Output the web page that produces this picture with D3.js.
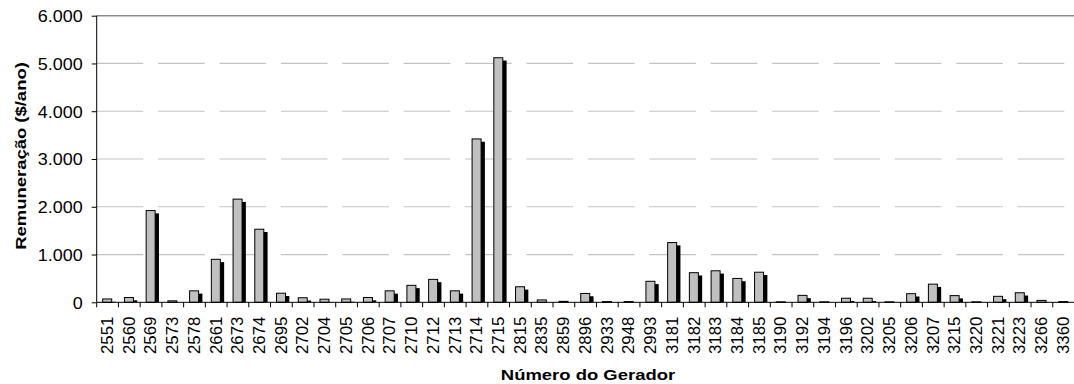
<!DOCTYPE html>
<html>
<head>
<meta charset="utf-8">
<script src="https://cdn.jsdelivr.net/npm/d3@7/dist/d3.min.js"></script>
<style>
  html, body { margin: 0; padding: 0; background: #fff; }
  svg { display: block; font-family: "Liberation Sans", Arial, sans-serif; }
</style>
</head>
<body>
<svg id="chart" width="1074" height="384"></svg>
<script>
const categories = ["2551","2560","2569","2573","2578","2661","2673","2674","2695","2702","2704","2705","2706","2707","2710","2712","2713","2714","2715","2815","2835","2859","2896","2933","2948","2993","3181","3182","3183","3184","3185","3190","3192","3194","3196","3202","3205","3206","3207","3215","3220","3221","3223","3266","3360"];
const values = [70,100,1920,30,240,900,2160,1530,190,95,65,70,100,240,355,480,240,3420,5120,325,50,20,185,15,15,440,1250,620,660,500,630,10,145,10,85,85,10,180,380,140,10,125,200,40,15];
const yTicks = [0,1000,2000,3000,4000,5000,6000];
const yTickLabels = ["0","1.000","2.000","3.000","4.000","5.000","6.000"];
const yTitle = "Remuneração ($/ano)";
const xTitle = "Número do Gerador";

(function() {
const svg = d3.select("#chart");
const pL = 96.7, pR = 1074.5, pT = 15.7, pB = 302.3;

const x = d3.scaleBand().domain(categories).range([pL, pR]).padding(0);
const y = d3.scaleLinear().domain([0, 6000]).range([pB, pT]);
const bw = x.bandwidth();

function stretch(sel, factor) {
  sel.each(function() {
    const w = this.getComputedTextLength();
    d3.select(this).attr("textLength", w * factor).attr("lengthAdjust", "spacingAndGlyphs");
  });
}

// gridlines (dashed)
svg.append("g").selectAll("line")
  .data(yTicks.filter(d => d > 0 && d < 6000))
  .join("line")
  .attr("x1", pL).attr("x2", pR)
  .attr("y1", d => y(d)).attr("y2", d => y(d))
  .attr("stroke", "#c4c4c4").attr("stroke-width", 1.2)
  .attr("stroke-dasharray", "46.6,14.8");

// top border
svg.append("line")
  .attr("x1", pL).attr("x2", pR)
  .attr("y1", y(6000)).attr("y2", y(6000))
  .attr("stroke", "#8c8c8c").attr("stroke-width", 1.6);

// clip for shadows
svg.append("clipPath").attr("id", "plotclip")
  .append("rect").attr("x", pL).attr("y", pT).attr("width", pR - pL).attr("height", pB - pT);

const data = categories.map((c, i) => ({c, v: values[i]}));
const barX = d => x(d.c) + bw * 0.253 + 0.5;
const barW = bw * 0.46 - 1;

// shadows
svg.append("g").attr("clip-path", "url(#plotclip)")
  .selectAll("rect").data(data).join("rect")
  .attr("x", d => barX(d) + 3.3 - 0.5)
  .attr("y", d => y(d.v) + 3.3 - 0.5)
  .attr("width", barW + 1)
  .attr("height", d => Math.max(0, pB - y(d.v) + 2))
  .attr("fill", "#000");

// bars
svg.append("g").selectAll("rect").data(data).join("rect")
  .attr("x", barX)
  .attr("y", d => y(d.v))
  .attr("width", barW)
  .attr("height", d => pB - y(d.v))
  .attr("fill", "#c0c0c0")
  .attr("stroke", "#000").attr("stroke-width", 1);

// y axis
const yAxis = svg.append("g").attr("transform", `translate(${pL},0)`)
  .call(d3.axisLeft(y).tickValues(yTicks).tickSize(5).tickFormat((d, i) => yTickLabels[i]));
yAxis.select(".domain").attr("stroke", "#000").attr("d", `M0,${pT}V${pB}`);
yAxis.selectAll(".tick line").attr("stroke", "#000");
yAxis.selectAll(".tick text")
  .attr("x", -14).attr("dy", null).attr("y", 5.8)
  .attr("font-size", 16).attr("font-family", "Liberation Sans, Arial, sans-serif")
  .attr("fill", "#000")
  .call(stretch, 1.12);

// x axis
const xAxis = svg.append("g").attr("transform", `translate(0,${pB})`)
  .call(d3.axisBottom(x).tickSize(0).tickSizeOuter(0));
xAxis.select(".domain").attr("stroke", "#000").attr("d", `M${pL},0H${pR}`);
xAxis.selectAll(".tick line").remove();
xAxis.append("g").selectAll("line")
  .data(categories)
  .join("line")
  .attr("x1", d => x(d)).attr("x2", d => x(d))
  .attr("y1", 0).attr("y2", 5)
  .attr("stroke", "#000");
xAxis.selectAll(".tick text")
  .attr("font-size", 16).attr("font-family", "Liberation Sans, Arial, sans-serif")
  .attr("fill", "#000")
  .attr("text-anchor", "end")
  .attr("dy", null)
  .attr("y", 0).attr("x", 0)
  .attr("transform", `translate(5.3,14.4) rotate(-90)`)
  .call(stretch, 1.05);

// axis titles
svg.append("text")
  .attr("x", 588).attr("y", 380)
  .attr("text-anchor", "middle")
  .attr("font-size", 15).attr("font-weight", "bold")
  .attr("fill", "#000")
  .text(xTitle)
  .call(stretch, 1.23);

svg.append("text")
  .attr("transform", "translate(25.5,156) rotate(-90)")
  .attr("text-anchor", "middle")
  .attr("font-size", 15).attr("font-weight", "bold")
  .attr("fill", "#000")
  .text(yTitle)
  .call(stretch, 1.23);
})();
</script>
</body>
</html>
